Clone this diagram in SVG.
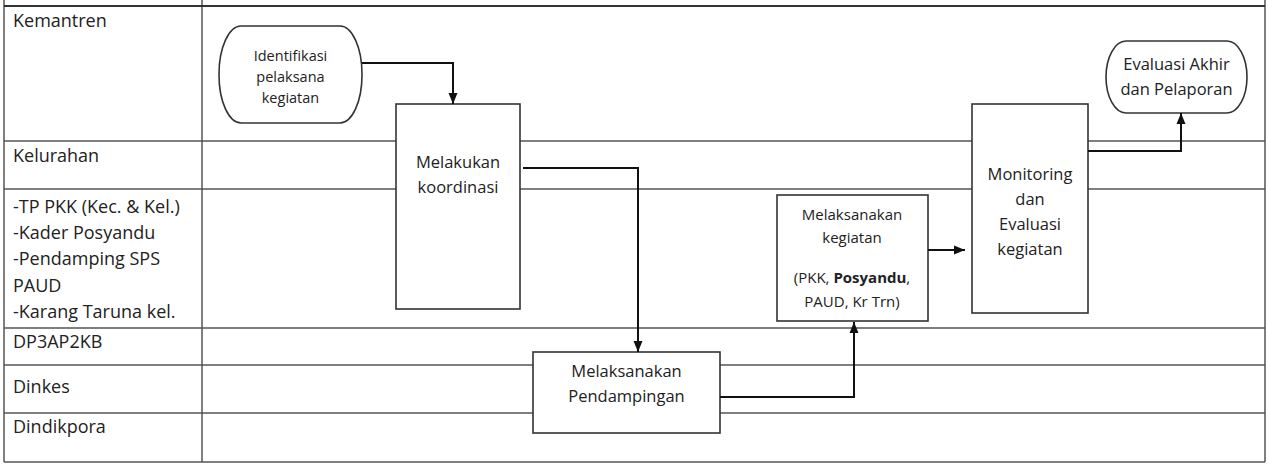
<svg xmlns="http://www.w3.org/2000/svg" width="1268" height="466" viewBox="0 0 1268 466">
<style>
.grid{stroke:#555;stroke-width:1.5;fill:none}
.node{fill:#fff;stroke:#333;stroke-width:1.6}
.lane{font-family:"Open Sans","Liberation Sans",sans-serif;font-size:18px;fill:#222}
.t{font-family:"Open Sans","Liberation Sans",sans-serif;fill:#222;text-anchor:middle}
.conn{fill:none;stroke:#111;stroke-width:2}
</style>
<defs>
<marker id="arr" markerUnits="userSpaceOnUse" markerWidth="12" markerHeight="12" viewBox="0 0 12 12" refX="11" refY="6" orient="auto">
<path d="M0,1.5 L11,6 L0,10.5 Z" fill="#111"/>
</marker>
</defs>
<rect width="1268" height="466" fill="#fff"/>
<g id="table">
<line class="grid" x1="4" y1="0" x2="4" y2="462"/>
<line class="grid" x1="1265" y1="0" x2="1265" y2="462"/>
<line class="grid" x1="202" y1="0" x2="202" y2="462"/>
<line x1="4" y1="6" x2="1265" y2="6" stroke="#333" stroke-width="2"/>
<line class="grid" x1="4" y1="141" x2="1265" y2="141"/>
<line class="grid" x1="4" y1="189" x2="1265" y2="189"/>
<line class="grid" x1="4" y1="328" x2="1265" y2="328"/>
<line class="grid" x1="4" y1="365" x2="1265" y2="365"/>
<line class="grid" x1="4" y1="413" x2="1265" y2="413"/>
<line class="grid" x1="4" y1="462" x2="1265" y2="462"/>
</g>
<g id="lanes">
<text class="lane" x="13" y="27">Kemantren</text>
<text class="lane" x="13" y="162">Kelurahan</text>
<text class="lane" x="13" y="213">-TP PKK (Kec. &amp; Kel.)</text>
<text class="lane" x="13" y="239">-Kader Posyandu</text>
<text class="lane" x="13" y="265">-Pendamping SPS</text>
<text class="lane" x="13" y="292">PAUD</text>
<text class="lane" x="13" y="318">-Karang Taruna kel.</text>
<text class="lane" x="13" y="348">DP3AP2KB</text>
<text class="lane" x="13" y="393">Dinkes</text>
<text class="lane" x="13" y="433">Dindikpora</text>
</g>
<g id="identifikasi">
<rect class="node" x="219" y="26" width="143" height="97" rx="22" ry="48"/>
<text class="t" x="290.5" y="61" font-size="14.5">Identifikasi</text>
<text class="t" x="290.5" y="82" font-size="14.5">pelaksana</text>
<text class="t" x="290.5" y="103" font-size="14.5">kegiatan</text>
</g>
<g id="koordinasi">
<rect class="node" x="396" y="104" width="124" height="205"/>
<text class="t" x="458" y="168" font-size="16.5">Melakukan</text>
<text class="t" x="458" y="193" font-size="16.5">koordinasi</text>
</g>
<g id="pendampingan">
<rect class="node" x="533" y="352" width="187" height="81"/>
<text class="t" x="626.5" y="377" font-size="16.5">Melaksanakan</text>
<text class="t" x="626.5" y="402" font-size="16.5">Pendampingan</text>
</g>
<g id="kegiatan">
<rect class="node" x="777" y="195" width="151" height="126"/>
<text class="t" x="852" y="220" font-size="15">Melaksanakan</text>
<text class="t" x="852" y="243" font-size="15">kegiatan</text>
<text class="t" x="852" y="283" font-size="15">(PKK, <tspan font-weight="bold">Posyandu</tspan>,</text>
<text class="t" x="852" y="307" font-size="15">PAUD, Kr Trn)</text>
</g>
<g id="monitoring">
<rect class="node" x="972" y="104" width="116" height="209"/>
<text class="t" x="1030" y="180" font-size="16.5">Monitoring</text>
<text class="t" x="1030" y="205" font-size="16.5">dan</text>
<text class="t" x="1030" y="230" font-size="16.5">Evaluasi</text>
<text class="t" x="1030" y="255" font-size="16.5">kegiatan</text>
</g>
<g id="evaluasi">
<rect class="node" x="1106" y="41" width="141" height="72" rx="20" ry="36"/>
<text class="t" x="1176.5" y="70" font-size="16.5">Evaluasi Akhir</text>
<text class="t" x="1176.5" y="95" font-size="16.5">dan Pelaporan</text>
</g>
<g id="connectors">
<path class="conn" d="M362,63 H453 V104" marker-end="url(#arr)"/>
<path class="conn" d="M523,168 H638 V352" marker-end="url(#arr)"/>
<path class="conn" d="M720,397 H854 V322" marker-end="url(#arr)"/>
<path class="conn" d="M928,250 H965" marker-end="url(#arr)"/>
<path class="conn" d="M1088,151 H1181 V113" marker-end="url(#arr)"/>
</g>
</svg>
